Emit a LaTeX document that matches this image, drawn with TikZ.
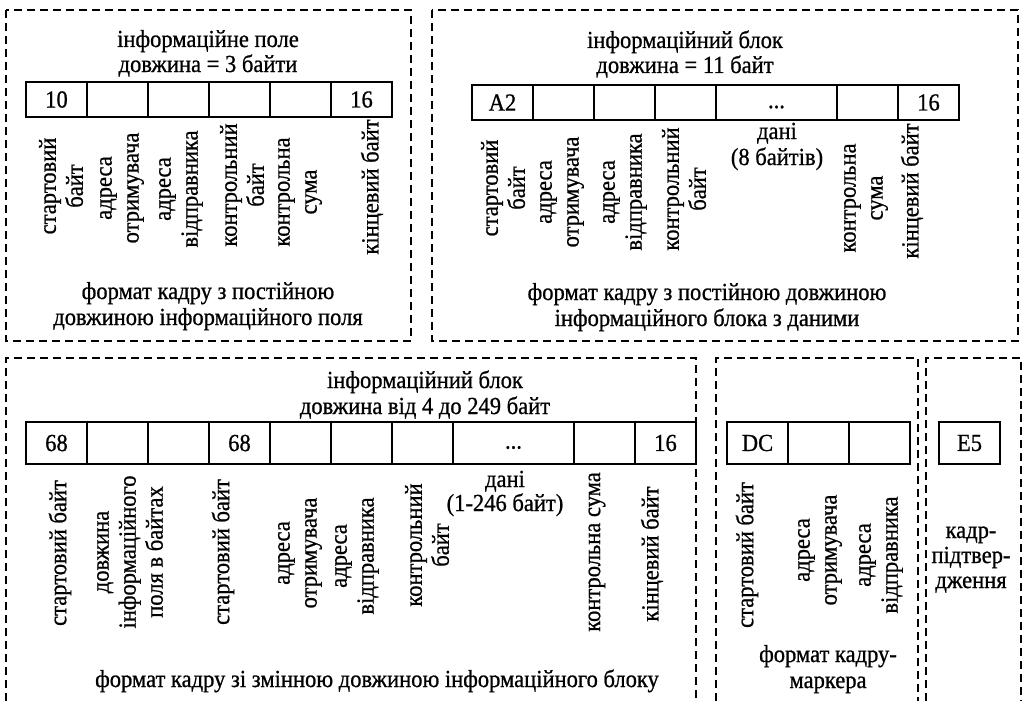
\documentclass[tikz,border=0pt]{standalone}
\usepackage{fontspec}
\setmainfont{Liberation Serif}[FakeStretch=0.92,FakeBold=0.8]
\begin{document}
\begin{tikzpicture}[x=1pt,y=-1pt,
  every node/.style={font=\fontsize{24.5}{27}\selectfont, inner sep=0pt, outer sep=0pt},
  frame/.style={line width=1.6pt, dash pattern=on 8pt off 5pt},
  cell/.style={draw, line width=1.3pt, anchor=north west, minimum width=61pt, minimum height=35pt},
  wide/.style={minimum width=121pt},
  tall/.style={minimum height=42pt},
  vlab/.style={rotate=90, align=center},
  txt/.style={anchor=base}]
\useasboundingbox (0,0) rectangle (1027,701);
\newcommand{\dotsfill}{\vphantom{x}\smash{...}}

% ---------- dashed frames ----------
\draw[frame] (6,10) rectangle (411,341);
\draw[frame] (432,10) rectangle (1018,341);
\draw[frame] (6,701) -- (6,358) -- (696,358) -- (696,701);
\draw[frame] (716,701) -- (716,358) -- (918,358) -- (918,701);
\draw[frame] (926,701) -- (926,358) -- (1021,358) -- (1021,701);

% ---------- frame 1: fixed length information field ----------
\node[txt] (t1a) at (208,47) {інформаційне поле};
\node[txt] (t1b) at (208,72) {довжина = 3 байти};
\node[cell] (a1) at (26,82) {10};
\node[cell] (a2) at (87,82) {};
\node[cell] (a3) at (148,82) {};
\node[cell] (a4) at (209,82) {};
\node[cell] (a5) at (270,82) {};
\node[cell] (a6) at (331,82) {16};
\node[vlab] (la1) at (61,186) {стартовий\\байт};
\node[vlab] (la2) at (122,188) {адреса\\отримувача};
\node[vlab] (la3) at (181,189) {адреса\\відправника};
\node[vlab] (la4) at (242,185) {контрольний\\байт};
\node[vlab] (la5) at (300,192) {контрольна\\сума};
\node[vlab] (la6) at (372,187) {кінцевий байт};
\node[txt] (f1a) at (208,299) {формат кадру з постійною};
\node[txt] (f1b) at (208,325) {довжиною інформаційного поля};

% ---------- frame 2: fixed length block with data ----------
\node[txt] (t2a) at (685,48) {інформаційний блок};
\node[txt] (t2b) at (685,73) {довжина = 11 байт};
\node[cell] (b1) at (472,85) {A2};
\node[cell] (b2) at (533,85) {};
\node[cell] (b3) at (594,85) {};
\node[cell] (b4) at (655,85) {};
\node[cell,wide] (b5) at (716,85) {\dotsfill};
\node[cell] (b6) at (837,85) {};
\node[cell] (b7) at (898,85) {16};
\node[vlab] (lb1) at (503,188) {стартовий\\байт};
\node[vlab] (lb2) at (562,192) {адреса\\отримувача};
\node[vlab] (lb3) at (625,192) {адреса\\відправника};
\node[vlab] (lb4) at (684,189) {контрольний\\байт};
\node[txt] (lb5a) at (777,139) {дані};
\node[txt] (lb5b) at (777,165) {(8 байтів)};
\node[vlab] (lb6) at (866,198) {контрольна\\сума};
\node[vlab] (lb7) at (912,191) {кінцевий байт};
\node[txt] (f2a) at (707,300) {формат кадру з постійною довжиною};
\node[txt] (f2b) at (707,326) {інформаційного блока з даними};

% ---------- frame 3: variable length block ----------
\node[txt] (t3a) at (425,388) {інформаційний блок};
\node[txt] (t3b) at (425,414) {довжина від 4 до 249 байт};
\node[cell,tall] (c1) at (26,422) {68};
\node[cell,tall] (c2) at (87,422) {};
\node[cell,tall] (c3) at (148,422) {};
\node[cell,tall] (c4) at (209,422) {68};
\node[cell,tall] (c5) at (270,422) {};
\node[cell,tall] (c6) at (331,422) {};
\node[cell,tall] (c7) at (392,422) {};
\node[cell,tall,wide] (c8) at (453,422) {\dotsfill};
\node[cell,tall] (c9) at (574,422) {};
\node[cell,tall] (c10) at (635,422) {16};
\node[vlab] (lc1) at (60,553) {стартовий байт};
\node[vlab] (lc2) at (130,552) {довжина\\інформаційного\\поля в байтах};
\node[vlab] (lc3) at (223,552) {стартовий байт};
\node[vlab] (lc4) at (300,553) {адреса\\отримувача};
\node[vlab] (lc5) at (357,556) {адреса\\відправника};
\node[vlab] (lc6) at (427,545) {контрольний\\байт};
\node[txt] (lc7a) at (505,487) {дані};
\node[txt] (lc7b) at (505,511) {(1-246 байт)};
\node[vlab] (lc8) at (597,552) {контрольна сума};
\node[vlab] (lc9) at (652,554) {кінцевий байт};
\node[txt] (f3) at (377,687) {формат кадру зі змінною довжиною інформаційного блоку};

% ---------- frame 4: token frame ----------
\node[cell,tall] (d1) at (727,422) {DC};
\node[cell,tall] (d2) at (788,422) {};
\node[cell,tall] (d3) at (849,422) {};
\node[vlab] (ld1) at (747,555) {стартовий байт};
\node[vlab] (ld2) at (820,550) {адреса\\отримувача};
\node[vlab] (ld3) at (881,555) {адреса\\відправника};
\node[txt] (f4a) at (828,662) {формат кадру-};
\node[txt] (f4b) at (828,688) {маркера};

% ---------- frame 5: acknowledgement ----------
\node[cell,tall] (e1) at (939,422) {E5};
\node[txt] (f5a) at (971,538) {кадр-};
\node[txt] (f5b) at (971,563) {підтвер-};
\node[txt] (f5c) at (971,588) {дження};
\end{tikzpicture}
\end{document}
